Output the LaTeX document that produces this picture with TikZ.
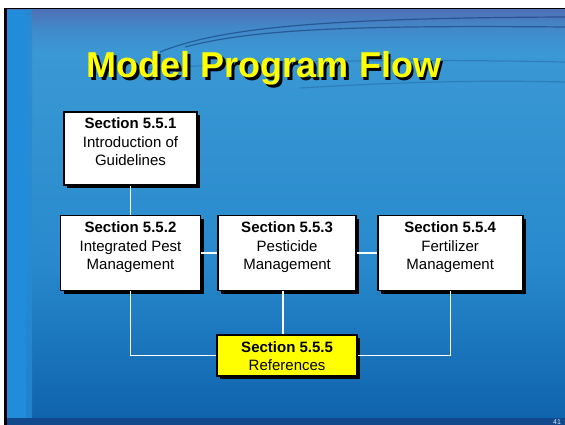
\documentclass[tikz,border=0pt]{standalone}
\usepackage{fontspec}
\setmainfont{Liberation Sans}
\usetikzlibrary{positioning,shadows}

\definecolor{bgtop}{RGB}{78,112,182}
\definecolor{bgup}{RGB}{58,152,212}
\definecolor{bgmid}{RGB}{40,138,205}
\definecolor{bgbot}{RGB}{14,98,172}
\definecolor{stripe}{RGB}{32,140,218}
\definecolor{bandbot}{RGB}{18,72,140}
\definecolor{rippleblue}{RGB}{10,30,90}
\definecolor{titleyellow}{RGB}{255,255,0}
\definecolor{refyellow}{RGB}{255,255,0}

\pgfdeclareverticalshading{slidebg}{100bp}{
    color(0bp)=(bgbot); color(25bp)=(bgbot); color(45bp)=(bgmid);
    color(70bp)=(bgup); color(73bp)=(bgup!60!bgtop); color(75bp)=(bgtop);
    color(100bp)=(bgtop)}

\tikzset{
    secbox/.style={
        draw=black, line width=1.6pt, fill=white, align=center,
        font=\fontsize{15}{18.5}\selectfont,
        inner xsep=3pt, inner ysep=4pt,
        text height=50pt, text depth=17pt,
        drop shadow={shadow xshift=3pt, shadow yshift=-3pt, opacity=1, fill=black}
    },
    refbox/.style={fill=refyellow, text height=31.5pt, text depth=1.5pt},
    link/.style={draw=white, line width=1.3pt},
    ripple/.style={draw=rippleblue, line width=1.2pt, draw opacity=0.45},
    titletext/.style={anchor=base, font=\fontsize{36}{40}\selectfont\bfseries}
}

\begin{document}
\begin{tikzpicture}[x=1pt, y=-1pt]

% slide background
\useasboundingbox (0,0) rectangle (565,425);
\fill[white] (0,0) rectangle (565,425);
\fill[black] (4,8) rectangle (565,425);
\shade[shading=slidebg] (7,10) rectangle (565,425);
\fill[stripe] (7,10) rectangle (26,425);
\shade[left color=stripe, right color=bgmid, opacity=0.8] (26,10) rectangle (32,425);
\fill[bandbot] (7,418) rectangle (565,425);

% ripples on the water
\draw[ripple] (160,52) .. controls (220,28) and (320,18) .. (565,17);
\draw[ripple] (185,47) .. controls (250,30) and (340,25) .. (565,27);
\draw[ripple, draw opacity=0.2] (90,75) .. controls (200,62) and (360,58) .. (565,62);
\draw[ripple, draw opacity=0.2] (300,88) .. controls (400,82) and (480,80) .. (565,82);

% title
\node[titletext, text=black] (titleshadow) at (266.5,80.5) {Model Program Flow};
\node[titletext, text=titleyellow] (title) at (264,78) {Model Program Flow};

% sections
\node[secbox, minimum width=133pt, text depth=15pt] (sec1) at (130.5,148.5)
    {\textbf{Section 5.5.1}\\Introduction of\\Guidelines};

\node[secbox, minimum width=140pt, below=29pt of sec1] (sec2)
    {\textbf{Section 5.5.2}\\Integrated Pest\\Management};

\node[secbox, minimum width=138pt, right=16pt of sec2] (sec3)
    {\textbf{Section 5.5.3}\\Pesticide\\Management};

\node[secbox, minimum width=145pt, right=20pt of sec3] (sec4)
    {\textbf{Section 5.5.4}\\Fertilizer\\Management};

\node[secbox, refbox, minimum width=140pt, below=43pt of sec3] (sec5)
    {\textbf{Section 5.5.5}\\References};

% links
\draw[link] (sec1.south) -- (sec1.south |- sec2.north);
\draw[link] (sec2) -- (sec3);
\draw[link] (sec3) -- (sec4);
\draw[link] ([xshift=-4pt]sec3.south) -- ([xshift=-4pt]sec3.south |- sec5.north);
\draw[link] (sec2.south) |- (sec5.west);
\draw[link] (sec4.south) |- (sec5.east);

% page number
\node[anchor=base, font=\fontsize{7}{8}\selectfont, text=white!85!bgbot] (pagenum) at (557,424) {41};

\end{tikzpicture}
\end{document}
